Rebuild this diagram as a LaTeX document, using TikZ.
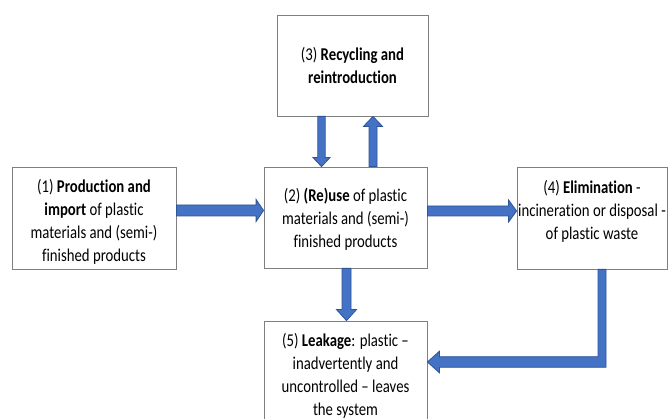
\documentclass[tikz,border=0pt]{standalone}
\usepackage{fontspec}
\setmainfont{Carlito}[FakeStretch=0.82, Ligatures=NoCommon]
\usetikzlibrary{calc}

\definecolor{flowblue}{HTML}{4472C4}
\definecolor{flowedge}{HTML}{2F5597}
\definecolor{boxline}{HTML}{7F7F7F}

% block arrows drawn as filled outlines between node anchors
% #1 start point, #2 tip point, #3 shaft half-width, #4 head half-width, #5 head length
\newcommand\flowright[5]{\draw[flow] let \p1=#1, \p2=#2 in
  (\x1,\y1+#3) -- (\x2-#5,\y1+#3) -- (\x2-#5,\y1+#4) -- (\x2,\y1)
  -- (\x2-#5,\y1-#4) -- (\x2-#5,\y1-#3) -- (\x1,\y1-#3) -- cycle;}
\newcommand\flowdown[5]{\draw[flow] let \p1=#1, \p2=#2 in
  (\x1-#3,\y1) -- (\x1-#3,\y2+#5) -- (\x1-#4,\y2+#5) -- (\x1,\y2)
  -- (\x1+#4,\y2+#5) -- (\x1+#3,\y2+#5) -- (\x1+#3,\y1) -- cycle;}
\newcommand\flowup[5]{\draw[flow] let \p1=#1, \p2=#2 in
  (\x1-#3,\y1) -- (\x1-#3,\y2-#5) -- (\x1-#4,\y2-#5) -- (\x1,\y2)
  -- (\x1+#4,\y2-#5) -- (\x1+#3,\y2-#5) -- (\x1+#3,\y1) -- cycle;}

\begin{document}
\begin{tikzpicture}[x=1pt,y=1pt,
  box/.style={draw=boxline, line width=0.8pt, fill=white, rectangle, inner sep=0pt},
  txt/.style={align=center, inner sep=0pt, font=\fontsize{18}{23}\selectfont},
  flow/.style={fill=flowblue, draw=flowedge, line width=0.8pt, line join=miter}]
\useasboundingbox (0,0) rectangle (668,419);
\clip (0,0) rectangle (668,419);

% stage boxes
\node[box, minimum width=164pt, minimum height=102pt] (b1) at (94,201) {};
\node[box, minimum width=163pt, minimum height=101pt] (b2) at (345.5,201.5) {};
\node[box, minimum width=151pt, minimum height=101pt] (b3) at (352.5,353.5) {};
\node[box, minimum width=150pt, minimum height=102pt] (b4) at (592,201) {};
\node[box, minimum width=163pt, minimum height=101pt] (b5) at (345.5,47.5) {};

% stage texts
\node[txt] (t1) at ($(b1)+(0,-3.5)$) {(1) \textbf{Production and}\\\textbf{import} of plastic\\materials and (semi-)\\finished products};
\node[txt] (t2) at ($(b2)+(0,-1.5)$) {(2) \textbf{(Re)use} of plastic\\materials and (semi-)\\finished products};
\node[txt] (t3) at ($(b3)+(0,0.5)$) {(3) \textbf{Recycling and}\\\textbf{reintroduction}};
\node[txt] (t4) at ($(b4)+(0,7)$) {(4) \textbf{Elimination} -\\incineration or disposal -\\of plastic waste};
\node[txt] (t5) at ($(b5)+(0,-4)$) {(5) \textbf{Leakage}: plastic –\\inadvertently and\\uncontrolled – leaves\\the system};

% flows between stages
\flowright{($(b1.east)+(0,7.5)$)}{(b2.west)}{5.5pt}{11pt}{7.5pt}
\flowright{($(b2.east)+(0,6.5)$)}{(b4.west)}{5pt}{11pt}{8pt}
\flowdown{($(b3.south)+(-31,0)$)}{(b2.north)}{3.7pt}{8.5pt}{9pt}
\flowup{($(b2.north)+(27.5,0)$)}{(b3.south)}{4pt}{9.5pt}{10pt}
\flowdown{($(b2.south)+(1,0)$)}{(b5.north)}{4.5pt}{10pt}{11pt}
\draw[flow] let \p1=($(b4.south)+(10,0)$), \p2=($(b5.east)+(0,9.5)$) in
  (\x1-4pt,\y1) -- (\x1-4pt,\y2+5.3pt) -- (\x2+12pt,\y2+5.3pt) -- (\x2+12pt,\y2+10.8pt)
  -- (\x2,\y2) -- (\x2+12pt,\y2-10.8pt) -- (\x2+12pt,\y2-5.3pt) -- (\x1+4pt,\y2-5.3pt)
  -- (\x1+4pt,\y1) -- cycle;
\end{tikzpicture}
\end{document}
